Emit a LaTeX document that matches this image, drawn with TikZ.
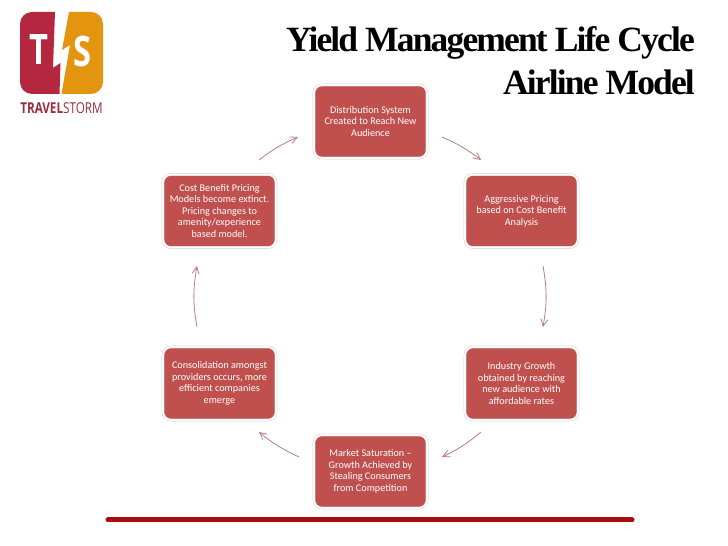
\documentclass[tikz,border=0pt]{standalone}
\usepackage{fontspec}
\setmainfont{Carlito}
\newfontfamily\titlefont[LetterSpace=-5.2]{Liberation Serif}
\newfontfamily\logofont[FakeStretch=.78]{Open Sans}
\usetikzlibrary{arrows.meta}
\definecolor{boxred}{HTML}{C0504D}
\definecolor{boxedge}{HTML}{DCCFCF}
\definecolor{cyclered}{HTML}{B57F7D}
\definecolor{logored}{HTML}{B5263F}
\definecolor{logoorange}{HTML}{E3950F}
\definecolor{logoname}{HTML}{9B2C3E}
\definecolor{rulered}{HTML}{A80C0C}
\begin{document}
\begin{tikzpicture}[
    x=1pt,y=1pt,
    stagebox/.style={fill=boxred,draw=boxedge,double=white,double distance=1.6pt,line width=.5pt,
      rounded corners=8pt,minimum width=113pt,minimum height=73pt,inner sep=0pt,
      text=white,align=center,font=\fontsize{10.2}{11.5}\selectfont},
    cyclearrow/.style={-{Straight Barb[length=7pt,width=7pt]},cyclered,line width=.8pt},
    logoletter/.style={text=white,font=\fontsize{42}{42}\logofont\bfseries},
  ]
    \useasboundingbox (0,0) rectangle (728,546);
    % Title and footer rule
    \node[anchor=north east,align=right,inner sep=0pt,font=\fontsize{35.5}{43}\titlefont\bfseries] (title) at (695,519.5)
      {Yield Management Life Cycle\\Airline Model};
    \draw[rulered,line width=5pt,line cap=round] (108,26) -- (632,26);
    % Logo
    \fill[logored] (55,534) -- (32,534) arc[start angle=90,end angle=180,radius=12] -- (20,464)
      arc[start angle=180,end angle=270,radius=12] -- (59.5,452) -- (60.5,483) -- (53,478) -- (55,534);
    \fill[logoorange] (69,534) -- (91,534) arc[start angle=90,end angle=0,radius=12] -- (103,464)
      arc[start angle=0,end angle=-90,radius=12] -- (61.5,452) -- (70,501) -- (62,496) -- (69,534);
    \node[logoletter] (logot) at (39,496) {T};
    \node[logoletter] (logos) at (83,494) {S};
    \node[text=logoname,font=\fontsize{15}{15}\logofont] (logoname) at (61.5,437.5) {\textbf{TRAVEL}STORM};
    % Stages, clockwise from the top
    \node[stagebox] (dist) at (370.5,424.5) {Distribution System\\Created to Reach New\\Audience};
    \node[stagebox] (price) at (521.5,335) {Aggressive Pricing\\based on Cost Benefit\\Analysis};
    \node[stagebox] (growth) at (521.5,162.5) {Industry Growth\\obtained by reaching\\new audience with\\affordable rates};
    \node[stagebox] (market) at (370.5,74.5) {Market Saturation --\\Growth Achieved by\\Stealing Consumers\\from Competition};
    \node[stagebox] (merge) at (219.5,162.5) {Consolidation amongst\\providers occurs, more\\efficient companies\\emerge};
    \node[stagebox] (extinct) at (219.5,335) {Cost Benefit Pricing\\Models become extinct.\\Pricing changes to\\amenity/experience\\based model.};
    % Free ends of the arrows, on one circle round the boxes
    \coordinate (distout) at (442,409);
    \coordinate (pricein) at (481,386);
    \coordinate (priceout) at (543,280);
    \coordinate (growthin) at (543,219);
    \coordinate (growthout) at (481,114);
    \coordinate (marketin) at (442,89);
    \coordinate (marketout) at (299,89);
    \coordinate (mergein) at (259,114);
    \coordinate (mergeout) at (197,219);
    \coordinate (extinctin) at (197,280);
    \coordinate (extinctout) at (259,386);
    \coordinate (distin) at (298,409);
    \draw[cyclearrow] (distout) to[bend left=7] (pricein);
    \draw[cyclearrow] (priceout) to[bend left=10] (growthin);
    \draw[cyclearrow] (growthout) to[bend left=7] (marketin);
    \draw[cyclearrow] (marketout) to[bend left=7] (mergein);
    \draw[cyclearrow] (mergeout) to[bend left=10] (extinctin);
    \draw[cyclearrow] (extinctout) to[bend left=7] (distin);
  \end{tikzpicture}
\end{document}
